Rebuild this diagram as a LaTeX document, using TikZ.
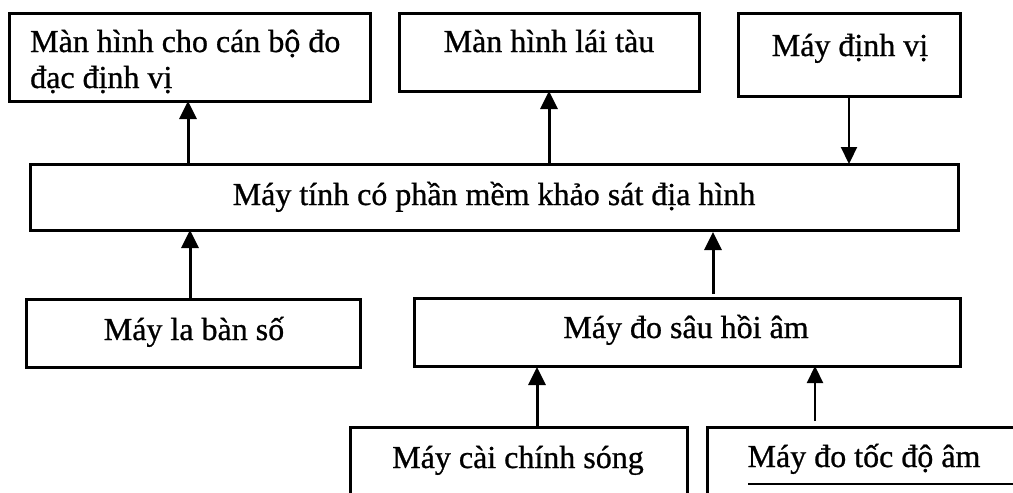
\documentclass[tikz,border=0pt]{standalone}
\usepackage{fontspec}
\setmainfont[FakeBold=0.8]{Liberation Serif}
\usetikzlibrary{arrows.meta}

\tikzset{
  box/.style={draw=black, line width=3pt, rectangle, inner sep=0pt, outer sep=0pt},
  lbl/.style={inner sep=0pt, anchor=base, font=\fontsize{32pt}{36pt}\selectfont},
  arr/.style={draw=black, line width=3pt, -{Triangle[width=17pt,length=18pt]}},
  thinarr/.style={draw=black, line width=2.2pt, -{Triangle[width=16pt,length=17pt]}}
}

\begin{document}
\begin{tikzpicture}[x=1pt, y=-1pt]
\useasboundingbox (0,0) rectangle (1013,493);
\clip (0,0) rectangle (1013,493);
\fill[white] (0,0) rectangle (1013,493);

% boxes
\node[box, minimum width=361pt, minimum height=88pt] (b1) at (189.5,57) {};
\node[box, minimum width=300pt, minimum height=78pt] (b2) at (549,52) {};
\node[box, minimum width=222pt, minimum height=83pt] (b3) at (849,54.5) {};
\node[box, minimum width=928pt, minimum height=66pt] (main) at (494,197) {};
\node[box, minimum width=334pt, minimum height=68pt] (lb) at (193,333) {};
\node[box, minimum width=546pt, minimum height=68pt] (ds) at (687,332) {};
\node[box, minimum width=337pt, minimum height=93pt] (cc) at (518.5,473.5) {};
\node[box, minimum width=353pt, minimum height=93pt] (td) at (883.5,473.5) {};

% labels
\node[lbl, anchor=base west] (t1a) at (30,52) {Màn hình cho cán bộ đo};
\node[lbl, anchor=base west] (t1b) at (30,88) {đạc định vị};
\node[lbl] (t2) at (549,52) {Màn hình lái tàu};
\node[lbl] (t3) at (850,56) {Máy định vị};
\node[lbl] (tm) at (494,205) {Máy tính có phần mềm khảo sát địa hình};
\node[lbl] (tlb) at (194,340) {Máy la bàn số};
\node[lbl] (tds) at (686,338) {Máy đo sâu hồi âm};
\node[lbl] (tcc) at (518,468) {Máy cài chính sóng};
\node[lbl] (ttd) at (864,467) {Máy đo tốc độ âm};

% arrow columns
\coordinate (xa1) at (188,0);
\coordinate (xa2) at (549,0);
\coordinate (xa3) at (849,0);
\coordinate (xa4) at (190,0);
\coordinate (xa5) at (713,0);
\coordinate (xa6) at (537,0);
\coordinate (xa7) at (815,0);

% connectors
\draw[arr] (main.north -| xa1) -- (b1.south -| xa1);
\draw[arr] (main.north -| xa2) -- (b2.south -| xa2);
\draw[thinarr] (b3.south -| xa3) -- (main.north -| xa3);
\draw[arr] (lb.north -| xa4) -- (main.south -| xa4);
\draw[arr, shorten <=4pt, shorten >=2pt] (ds.north -| xa5) -- (main.south -| xa5);
\draw[arr, shorten >=1pt] (cc.north -| xa6) -- (ds.south -| xa6);
\draw[thinarr, shorten <=6pt] (td.north -| xa7) -- (ds.south -| xa7);

% rule under the last label
\coordinate (r1) at (748,484);
\coordinate (r2) at (1013,484);
\draw[line width=1.2pt] (r1) -- (r2);
\end{tikzpicture}
\end{document}
